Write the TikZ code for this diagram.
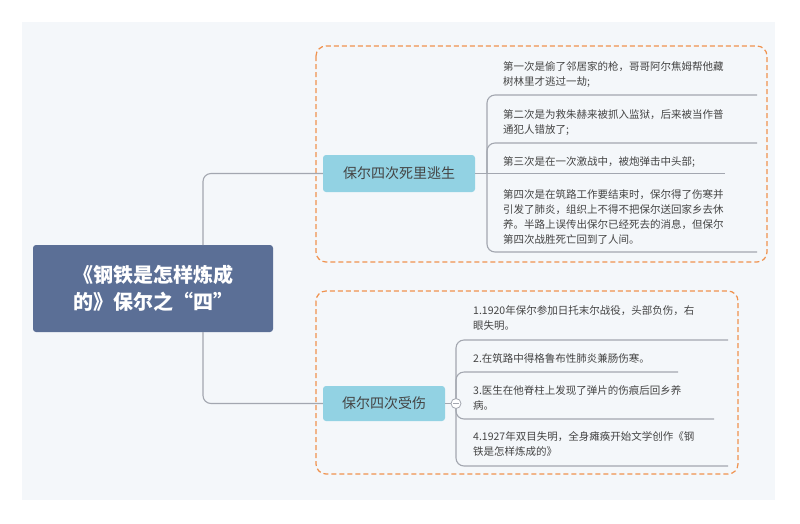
\documentclass[tikz,border=0pt]{standalone}
\usepackage{fontspec}
\setmainfont{Noto Sans CJK SC}
\definecolor{rootblue}{HTML}{5B6F96}
\definecolor{branchcyan}{HTML}{92D2E3}
\definecolor{dashorange}{HTML}{F0924E}
\definecolor{linegray}{HTML}{A3A7B0}
\definecolor{textgray}{HTML}{444444}
\definecolor{canvas}{HTML}{F4F7FA}
\usetikzlibrary{positioning}

\begin{document}
\begin{tikzpicture}[x=1pt, y=-1pt,
  rootbox/.style={fill=rootblue, rounded corners=3pt, text=white, font=\fontsize{20}{27}\selectfont\bfseries, align=center},
  branchbox/.style={fill=branchcyan, rounded corners=3pt, text=textgray, font=\fontsize{14}{18}\selectfont, inner sep=0pt},
  leaftext/.style={anchor=west, text=textgray, font=\fontsize{10.5}{15}\selectfont, align=left, inner sep=0pt},
  group/.style={draw=dashorange, line width=1.2pt, rounded corners=10pt, dash pattern=on 5pt off 3pt},
  conn/.style={draw=linegray, line width=1.1pt, rounded corners=8pt},
]
\useasboundingbox (0,0) rectangle (800,523);
\fill[white] (0,0) rectangle (800,523);
\fill[canvas] (22,22) rectangle (775,500);

% groups
\draw[group] (316,46) rectangle (767,262);
\draw[group] (316,291) rectangle (738,474);

% root and branches
\node[rootbox, minimum width=240pt, minimum height=87pt] (root) at (153,288.5) {《钢铁是怎样炼成\\的》保尔之“四”};
\node[branchbox, minimum width=152pt, minimum height=37pt] (escape) at (399,173.5) {保尔四次死里逃生};
\node[branchbox, minimum width=122pt, minimum height=35pt] (injury) at (384,403.5) {保尔四次受伤};

\draw[conn] (203,245) |- (escape.west);
\draw[conn] (203,332) |- (injury.west);

% leaves of the first branch
\node[leaftext] (e1) at (503,75) {第一次是偷了邻居家的枪，哥哥阿尔焦姆帮他藏\\树林里才逃过一劫;};
\node[leaftext] (e2) at (503,123) {第二次是为救朱赫来被抓入监狱，后来被当作普\\通犯人错放了;};
\node[leaftext] (e3) at (503,162) {第三次是在一次激战中，被炮弹击中头部;};
\node[leaftext] (e4) at (503,217) {第四次是在筑路工作要结束时，保尔得了伤寒并\\引发了肺炎，组织上不得不把保尔送回家乡去休\\养。半路上误传出保尔已经死去的消息，但保尔\\第四次战胜死亡回到了人间。};

\coordinate (eb) at (487,173.5);
\draw[conn] (escape.east) -- (725,173.5);
\draw[conn] (eb) |- (757,95);
\draw[conn] (eb) |- (757,143);
\draw[conn] (eb) |- (757,252);

% leaves of the second branch
\node[leaftext] (i1) at (473,318) {1.1920年保尔参加日托末尔战役，头部负伤，右\\眼失明。};
\node[leaftext] (i2) at (473,358) {2.在筑路中得格鲁布性肺炎兼肠伤寒。};
\node[leaftext] (i3) at (473,398) {3.医生在他脊柱上发现了弹片的伤痕后回乡养\\病。};
\node[leaftext] (i4) at (473,444) {4.1927年双目失明，全身瘫痪开始文学创作《钢\\铁是怎样炼成的》};

\coordinate (ib) at (456,403.5);
\draw[conn] (injury.east) -- (ib);
\draw[conn] (ib) |- (728,340);
\draw[conn] (ib) |- (678,372);
\draw[conn] (ib) |- (714,419);
\draw[conn] (ib) |- (728,466);
\node[draw=linegray, fill=white, circle, minimum size=10pt, inner sep=0pt, line width=0.8pt] (fold) at (ib) {};
\draw[linegray, line width=0.8pt] ([xshift=-3pt]fold.center) -- ([xshift=3pt]fold.center);
\end{tikzpicture}
\end{document}
